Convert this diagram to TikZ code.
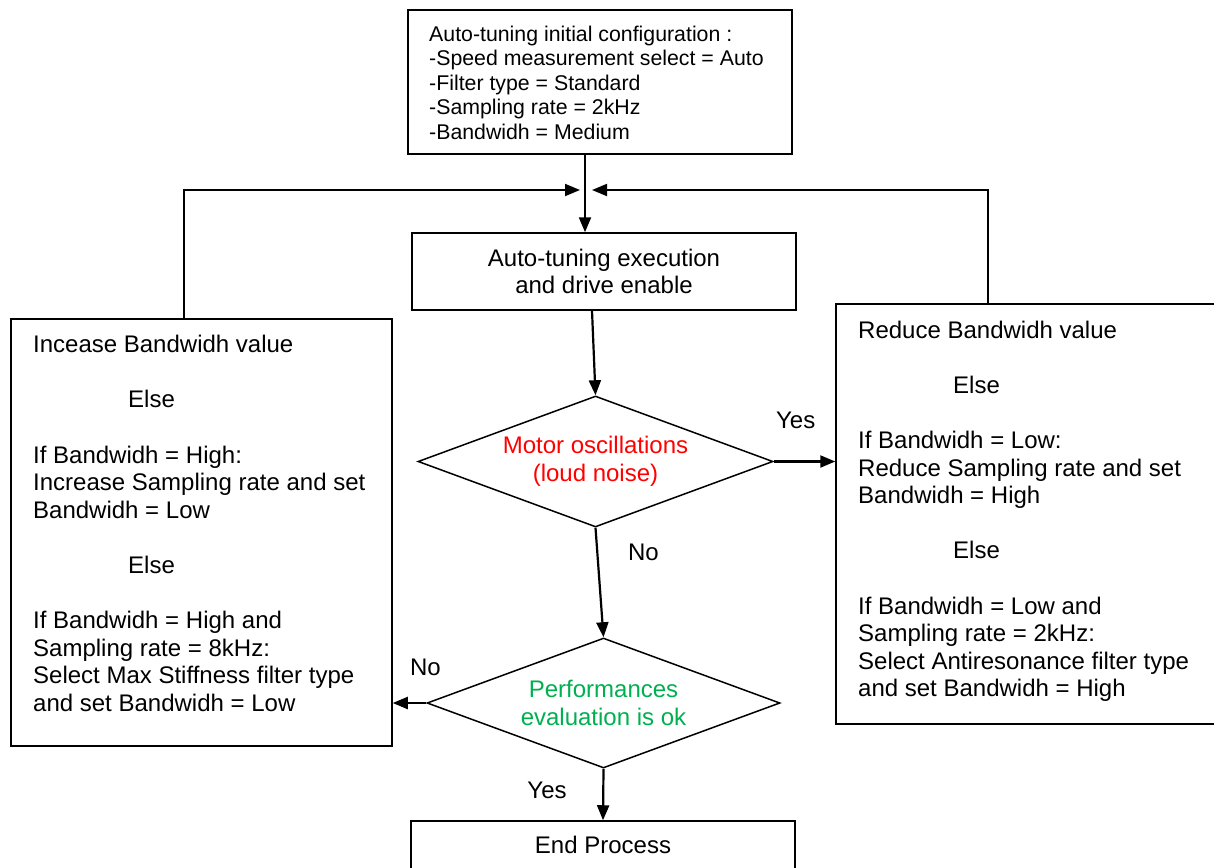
\documentclass[tikz,border=0pt]{standalone}
\usepackage{fontspec}
\setmainfont{Liberation Sans}
\usetikzlibrary{shapes.geometric,arrows.meta}
\definecolor{okgreen}{RGB}{0,176,80}
\begin{document}
\begin{tikzpicture}[x=1pt,y=-1pt,
  box/.style={draw, rectangle, line width=1.5pt, inner sep=0pt},
  bigfont/.style={font=\fontsize{24}{27.6}\selectfont},
  txt/.style={inner sep=0pt, align=left, bigfont},
  dia/.style={draw, diamond, line width=1.5pt, inner sep=0pt, aspect=2.7, align=center, bigfont},
  arr/.style={line width=2.2pt, -{Triangle[length=15pt,width=12pt]}},
  loopline/.style={line width=1.8pt, -{Triangle[length=15pt,width=12pt]}},
  lbl/.style={inner sep=0pt, anchor=base, bigfont}]
\useasboundingbox (0,0) rectangle (1214,867);

% boxes
\node[box, minimum width=384pt, minimum height=144pt] (init) at (600,82) {};
\node[inner sep=0pt, align=left, anchor=north west, font=\fontsize{21.3}{24.5}\selectfont] (inittxt) at (429,25.4)
  {Auto-tuning initial configuration :\\-Speed measurement select = Auto\\-Filter type = Standard\\-Sampling rate = 2kHz\\-Bandwidh = Medium};

\node[box, minimum width=384pt, minimum height=77pt, align=center, bigfont] (exec) at (604,271.5)
  {Auto-tuning execution\\and drive enable};

\node[dia, minimum width=355pt, minimum height=131pt, text=red] (osc) at (595.5,461.5)
  {Motor oscillations\\(loud noise)};

\node[dia, minimum width=353pt, minimum height=130pt, text=okgreen] (perf) at (603.5,703)
  {Performances\\evaluation is ok};

\node[box, minimum width=381pt, minimum height=427pt] (inc) at (201.5,532.5) {};
\node[txt, anchor=north west] (inctxt) at (33,335)
  {Incease Bandwidh value\\[27.6pt]
   \hspace*{95pt}Else\\[27.6pt]
   If Bandwidh = High:\\
   Increase Sampling rate and set\\
   Bandwidh = Low\\[27.6pt]
   \hspace*{95pt}Else\\[27.6pt]
   If Bandwidh = High and\\
   Sampling rate = 8kHz:\\
   Select Max Stiffness filter type\\
   and set Bandwidh = Low};

\node[box, minimum width=386pt, minimum height=420pt] (red) at (1029,514) {};
\node[txt, anchor=north west] (redtxt) at (858,320.5)
  {Reduce Bandwidh value\\[27.6pt]
   \hspace*{95pt}Else\\[27.6pt]
   If Bandwidh = Low:\\
   Reduce Sampling rate and set\\
   Bandwidh = High\\[27.6pt]
   \hspace*{95pt}Else\\[27.6pt]
   If Bandwidh = Low and\\
   Sampling rate = 2kHz:\\
   Select Antiresonance filter type\\
   and set Bandwidh = High};

\node[box, minimum width=384pt, minimum height=48pt, bigfont] (endp) at (603,845) {End Process};

% coordinates for the loop
\coordinate (mx) at (585,190);
\coordinate (jl) at (580,190);
\coordinate (jr) at (592,190);
\coordinate (cl) at (184,190);
\coordinate (cr) at (988,190);

% connectors
\draw[arr] (init.south -| mx) -- (exec.north -| mx);
\draw[loopline] (inc.north -| cl) -- (cl) -- (jl);
\draw[loopline] (red.north -| cr) -- (cr) -- (jr);
\draw[arr] ([xshift=-12pt]exec.south) -- (osc.north);
\draw[arr] (osc.east) -- (osc.east -| red.west);
\draw[arr] (osc.south) -- (perf.north);
\draw[arr] (perf.west) -- (perf.west -| inc.east);
\draw[arr] (perf.south) -- (endp.north);

% labels
\node[lbl] (yes1) at (795.7,428) {Yes};
\node[lbl] (no1) at (643.5,560) {No};
\node[lbl] (no2) at (425.5,675) {No};
\node[lbl] (yes2) at (547,798) {Yes};
\end{tikzpicture}
\end{document}
